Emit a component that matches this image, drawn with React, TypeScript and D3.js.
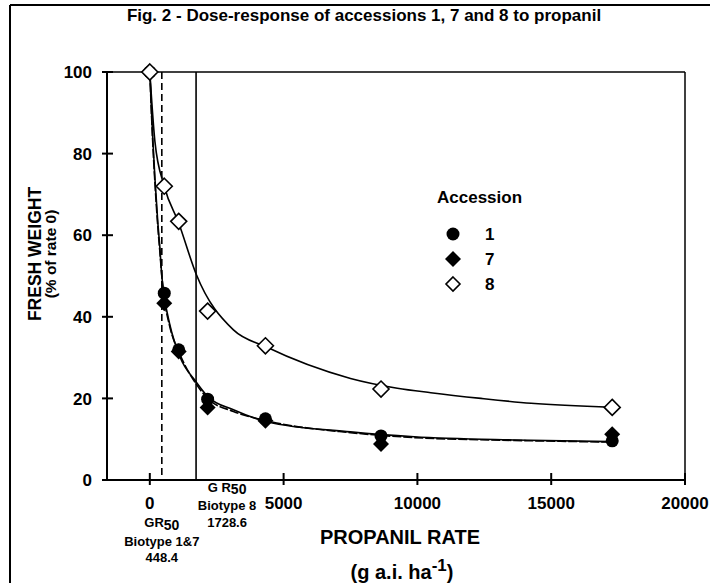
import React from "react";
import * as d3 from "d3";

// measured points
const doses = [0, 540, 1080, 2160, 4320, 8640, 17280];
const acc1 = [100, 45.8, 31.9, 19.8, 15.0, 10.8, 9.6];
const acc7 = [100, 43.3, 31.5, 17.8, 14.5, 8.8, 11.2];
const acc8 = [100, 72, 63.4, 41.4, 32.9, 22.3, 17.8];

// fitted curves
const fit8X = [0, 190, 540, 1080, 1730, 3125, 4320, 7500, 9250, 10500, 12375, 14250, 17280];
const fit8Y = [100, 83, 72, 63, 50.5, 36.8, 32.7, 24.9, 22.5, 21.4, 20, 18.8, 17.8];
const fit1X = [0, 100, 190, 300, 375, 448, 540, 750, 1125, 1725, 2160, 3125, 4375, 7500, 9875, 13625, 17280];
const fit1Y = [100, 85, 74, 63, 57, 50, 45, 38, 30.2, 24.1, 20.5, 17.2, 14.3, 11.8, 10.6, 9.8, 9.4];
const fit7Y = [100, 84, 73, 62, 56, 50, 44.5, 37.5, 30.8, 23.6, 20, 16.8, 14.5, 11.6, 10.4, 9.7, 9.3];

const xTicks = [0, 5000, 10000, 15000, 20000];
const yTicks = [0, 20, 40, 60, 80, 100];
const gr17 = 448.4;
const gr8 = 1728.6;

const font = "'Liberation Sans', Arial, sans-serif";

export default function App() {
  const left = 107, right = 685, top = 72, bottom = 480;
  const x = d3.scaleLinear().domain([-1600, 20000]).range([left, right]);
  const y = d3.scaleLinear().domain([0, 100]).range([bottom, top]);

  const line = d3
    .line<[number, number]>()
    .x((d) => x(d[0]))
    .y((d) => y(d[1]))
    .curve(d3.curveMonotoneX);

  const c8 = line(fit8X.map((v, i) => [v, fit8Y[i]]) as [number, number][]);
  const c1 = line(fit1X.map((v, i) => [v, fit1Y[i]]) as [number, number][]);
  const c7 = line(fit1X.map((v, i) => [v, fit7Y[i]]) as [number, number][]);

  const diamond = (cx: number, cy: number, r: number) =>
    `M${cx},${cy - r}L${cx + r},${cy}L${cx},${cy + r}L${cx - r},${cy}Z`;

  return (
    <svg width={715} height={583} style={{ position: "absolute", left: 0, top: 0 }} fontFamily={font}>
      <rect width={715} height={583} fill="#fff" />
      {/* frame */}
      <line x1={10} x2={710} y1={5} y2={5} stroke="#000" strokeWidth={2} />
      <line x1={10} x2={10} y1={5} y2={583} stroke="#000" strokeWidth={2} />

      <text x={364} y={21} textAnchor="middle" fontSize={17} fontWeight="bold">
        Fig. 2 - Dose-response of accessions 1, 7 and 8 to propanil
      </text>

      {/* plot box */}
      <line x1={left} x2={right} y1={top} y2={top} stroke="#000" strokeWidth={1.5} />
      <line x1={right} x2={right} y1={top} y2={bottom} stroke="#000" strokeWidth={1.5} />

      {/* GR50 lines */}
      <line x1={x(gr17)} x2={x(gr17)} y1={top} y2={bottom} stroke="#000" strokeWidth={1.6} strokeDasharray="7,4" />
      <line x1={x(gr8)} x2={x(gr8)} y1={top} y2={bottom} stroke="#000" strokeWidth={1.6} />

      {/* axes */}
      <line x1={left} x2={left} y1={top} y2={bottom} stroke="#000" strokeWidth={2} />
      <line x1={left - 5} x2={right} y1={bottom} y2={bottom} stroke="#000" strokeWidth={2} />
      {yTicks.map((t) => (
        <g key={"y" + t}>
          <line x1={left - 5} x2={left + 6} y1={y(t)} y2={y(t)} stroke="#000" strokeWidth={2} />
          <text x={left - 15} y={y(t)} dy="0.36em" textAnchor="end" fontSize={17} fontWeight="bold">
            {t}
          </text>
        </g>
      ))}
      {xTicks.map((t) => (
        <g key={"x" + t}>
          <line x1={x(t)} x2={x(t)} y1={bottom - 7} y2={bottom + 5} stroke="#000" strokeWidth={2} />
          <text x={x(t)} y={bottom + 29} textAnchor="middle" fontSize={17} fontWeight="bold">
            {t}
          </text>
        </g>
      ))}

      {/* curves */}
      <path d={c8 ?? ""} fill="none" stroke="#000" strokeWidth={1.6} />
      <path d={c1 ?? ""} fill="none" stroke="#000" strokeWidth={1.6} />
      <path d={c7 ?? ""} fill="none" stroke="#000" strokeWidth={1.6} strokeDasharray="9,2" />

      {/* markers */}
      {doses.map((d, i) => (
        <circle key={"a1" + i} cx={x(d)} cy={y(acc1[i])} r={6.5} fill="#000" />
      ))}
      {doses.map((d, i) => (
        <path key={"a7" + i} d={diamond(x(d), y(acc7[i]), 8)} fill="#000" />
      ))}
      {doses.map((d, i) => (
        <path key={"a8" + i} d={diamond(x(d), y(acc8[i]), 8)} fill="#fff" stroke="#000" strokeWidth={1.6} />
      ))}

      {/* legend */}
      <text x={437} y={203} fontSize={17} fontWeight="bold">Accession</text>
      <circle cx={453} cy={234} r={6.5} fill="#000" />
      <path d={diamond(453, 259, 8)} fill="#000" />
      <path d={diamond(453, 284, 7)} fill="#fff" stroke="#000" strokeWidth={1.6} />
      {["1", "7", "8"].map((s, i) => (
        <text key={s} x={485} y={234 + i * 25} dy="0.36em" fontSize={17} fontWeight="bold">
          {s}
        </text>
      ))}

      {/* GR50 notes */}
      <g fontSize={13} fontWeight="bold" textAnchor="middle">
        <text x={x(gr17)} y={527}>
          GR<tspan fontSize={14} dy={3}>50</tspan>
        </text>
        <text x={x(gr17)} y={546}>Biotype 1&amp;7</text>
        <text x={x(gr17)} y={562}>448.4</text>
        <text x={x(gr8) + 31} y={492}>
          G R<tspan fontSize={14} dy={2}>50</tspan>
        </text>
        <text x={x(gr8) + 31} y={510}>Biotype 8</text>
        <text x={x(gr8) + 31} y={527}>1728.6</text>
      </g>

      {/* axis titles */}
      <text x={400} y={544} textAnchor="middle" fontSize={20} fontWeight="bold">PROPANIL RATE</text>
      <text x={402} y={579} textAnchor="middle" fontSize={20} fontWeight="bold">
        (g a.i. ha<tspan dy={-8} fontSize={17}>-1</tspan><tspan dy={8}>)</tspan>
      </text>
      <g transform="translate(41,254) rotate(-90)">
        <text x={0} y={0} textAnchor="middle" fontSize={17.5} fontWeight="bold">FRESH WEIGHT</text>
        <text x={0} y={15} textAnchor="middle" fontSize={15.5} fontWeight="bold">(% of rate 0)</text>
      </g>
    </svg>
  );
}
